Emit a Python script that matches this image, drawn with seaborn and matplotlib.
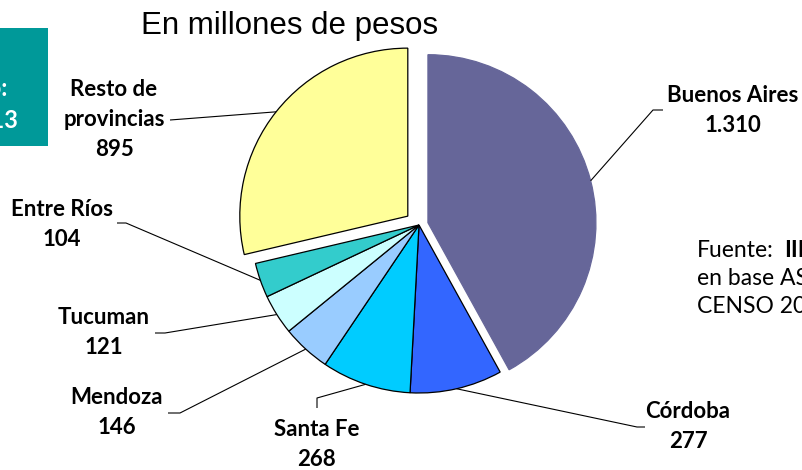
"""
Gasto por provincia de origen, torta con dos porciones separadas.
"""
import numpy as np
import matplotlib.pyplot as plt
from matplotlib.patches import Rectangle
import seaborn as sns

# Datos (millones de pesos)
provincias = ["Buenos Aires", "Córdoba", "Santa Fe", "Mendoza", "Tucuman",
              "Entre Ríos", "Resto de\nprovincias"]
gasto = [1310, 277, 268, 146, 121, 104, 895]
valores_txt = ["1.310", "277", "268", "146", "121", "104", "895"]
colores = ["#666699", "#3366FF", "#00CCFF", "#99CCFF", "#CCFFFF", "#33CCCC", "#FFFF99"]
separacion = [0.055, 0, 0, 0, 0, 0, 0.085]

sns.set_theme(style="white")
plt.rcParams["font.family"] = ["Lato", "DejaVu Sans"]

W, H = 802, 470
fig = plt.figure(figsize=(W / 100, H / 100), dpi=100)
ax = fig.add_axes([0, 0, 1, 1])

R = 168
centro = (419, H - 225)
# explode de matplotlib va en unidades de datos, no en fraccion del radio
wedges, _ = ax.pie(gasto, colors=colores, explode=[s * R for s in separacion],
                   startangle=90, counterclock=False, radius=R, center=centro,
                   wedgeprops=dict(edgecolor="black", linewidth=0.9))
wedges[0].set_edgecolor(colores[0])
ax.set_xlim(0, W)
ax.set_ylim(0, H)
ax.set_aspect("equal")
ax.axis("off")

# posiciones de las lineas guia y etiquetas (pixeles desde arriba)
codos = [(653, 110), (637, 427), (317, 398), (180, 413), (165, 333), (126, 223), (170, 120)]
finales = [(663, 110), (645, 427), (317, 408), (168, 413), (155, 333), (117, 223), (170, 120)]
pos_etiq = [(733, 96), (688, 411), (317, 430), (117, 398), (104, 318), (62, 210), (114, 90)]

for w, codo, fin, (tx, ty), nombre, val in zip(wedges, codos, finales, pos_etiq,
                                               provincias, valores_txt):
    ang = np.deg2rad((w.theta1 + w.theta2) / 2)
    cx, cy = w.center
    x0, y0 = cx + R * np.cos(ang), cy + R * np.sin(ang)
    ax.plot([x0, codo[0], fin[0]], [y0, H - codo[1], H - fin[1]],
            color="black", lw=0.8, solid_capstyle="butt")
    lineas = nombre.split("\n") + [val]
    for k, linea in enumerate(lineas):
        ax.text(tx, H - (ty + 30 * k), linea, ha="center", va="center",
                fontsize=16, fontweight="bold", color="black")

# subtitulo
ax.text(290, H - 34, "En millones de pesos", ha="center", va="baseline",
        fontsize=22.5, family="Liberation Sans", color="black")

# recuadro a la izquierda (cortado)
ax.add_patch(Rectangle((0, H - 146), 48, 118, color="#009999", lw=0))
ax.text(8, H - 89, "Año:", ha="right", va="center", fontsize=17,
        fontweight="bold", color="white")
ax.text(18, H - 121, "2013", ha="right", va="center", fontsize=17,
        fontweight="bold", color="white")

# fuente (cortada por el borde)
ax.text(697, H - 257, "Fuente:", ha="left", va="baseline", fontsize=16.5, color="black")
ax.text(784, H - 257, "IIE", ha="left", va="baseline", fontsize=16.5,
        fontweight="bold", color="black")
ax.text(697, H - 285, "en base ASOCIACIÓN", ha="left", va="baseline", fontsize=16.5, color="black")
ax.text(697, H - 313, "CENSO 2010", ha="left", va="baseline", fontsize=16.5, color="black")

fig.savefig("out.png", dpi=100)
